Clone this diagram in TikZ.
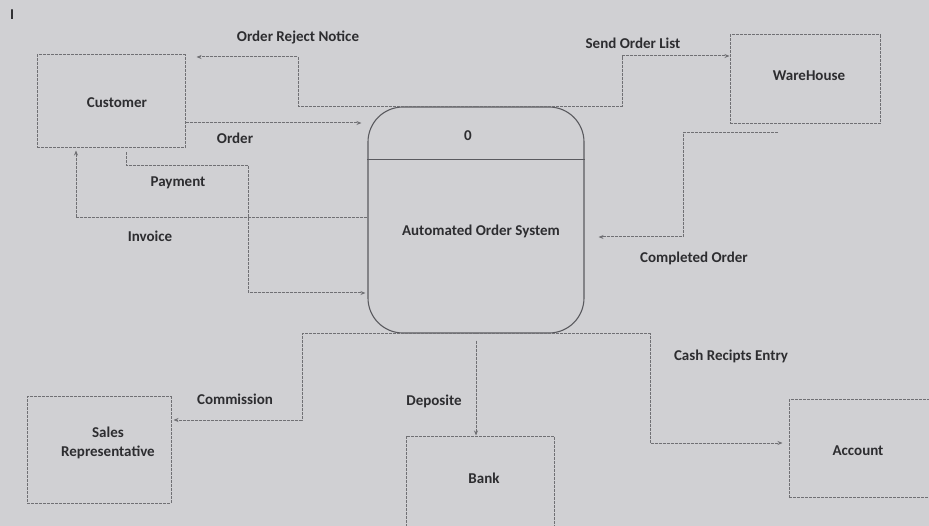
\documentclass[tikz,border=0pt]{standalone}
\usepackage{fontspec}
\setmainfont{Carlito}
\usetikzlibrary{arrows.meta}
\definecolor{bgc}{RGB}{208,208,211}
\definecolor{lnc}{RGB}{112,112,116}
\definecolor{pc}{RGB}{90,90,95}
\definecolor{txc}{RGB}{45,45,48}
\tikzset{
  ent/.style={draw=lnc, line width=1pt, dash pattern=on 3pt off 1pt, minimum width=#1},
  flow/.style={draw=lnc, line width=1pt, dash pattern=on 3pt off 1pt, -{Stealth[length=5pt,width=4pt]}},
  proc/.style={draw=pc, line width=1.1pt, rounded corners=35pt, minimum width=216pt, minimum height=226pt},
  lbl/.style={text=txc, font=\fontsize{15}{18}\selectfont\bfseries, inner sep=0pt},
}
\begin{document}
\begin{tikzpicture}[x=1pt,y=-1pt]
\clip (0,0) rectangle (929,526);
\fill[bgc] (0,0) rectangle (929,526);
\node[lbl] (mark) at (12,15) {I};
% entities
\node[ent=148pt, minimum height=93pt] (cust) at (111,101.5) {};
\node[lbl] (custtxt) at (117,103) {Customer};
\node[ent=150pt, minimum height=89pt] (wh) at (805,79.5) {};
\node[lbl] (whtxt) at (809,76) {WareHouse};
\node[ent=144pt, minimum height=106pt] (sales) at (99,450) {};
\node[lbl, align=center] (salestxt) at (108,443) {Sales\\[1pt]Representative};
\node[ent=148pt, minimum height=120pt] (bank) at (480,496) {};
\node[lbl] (banktxt) at (484,478) {Bank};
\node[ent=146pt, minimum height=97pt] (acc) at (862,448.5) {};
\node[lbl] (acctxt) at (858,451) {Account};
% process
\node[proc] (proc) at (476,220) {};
\coordinate (divy) at (0,160);
\draw[draw=pc, line width=1pt] (proc.west |- divy) -- (proc.east |- divy);
\node[lbl] (pid) at (468,136) {0};
\node[lbl] (pname) at (481,231) {Automated Order System};
% flows
\coordinate (rj1) at (298,57);
\draw[flow] (proc.north) -| (rj1) -- ([xshift=11pt]cust.east |- rj1);
\coordinate (so1) at (622,56);
\draw[flow] (proc.north) -| (so1) -- (wh.west |- so1);
\coordinate (ord) at (0,123);
\draw[flow] (cust.east |- ord) -- ([xshift=-6pt]proc.west |- ord);
\coordinate (pay1) at (126,166);
\coordinate (pay2) at (248,293);
\draw[flow] ([yshift=-4pt]cust.south -| pay1) -- (pay1) -| (pay2) -- ([xshift=-2pt]proc.west |- pay2);
\coordinate (inv) at (76,218);
\draw[flow] (proc.west |- inv) -- (inv) -- ([yshift=-2pt]cust.south -| inv);
\coordinate (co0) at (778,133);
\coordinate (co1) at (683,237);
\draw[flow] (co0) -| (co1) -- ([xshift=14pt]proc.east |- co1);
\coordinate (cm1) at (302,420);
\draw[flow] (proc.south) -| (cm1) -- ([xshift=2pt]sales.east |- cm1);
\draw[flow] ([yshift=-7pt]proc.south) -- (proc.south |- bank.north);
\coordinate (ca1) at (650,443);
\draw[flow] (proc.south) -| (ca1) -- ([xshift=-6pt]acc.west |- ca1);
% labels
\node[lbl] (lrj) at (298,37) {Order Reject Notice};
\node[lbl] (lso) at (633,43) {Send Order List};
\node[lbl] (lord) at (235,138) {Order};
\node[lbl] (lpay) at (178,183) {Payment};
\node[lbl] (linv) at (150,236) {Invoice};
\node[lbl] (lco) at (694,258) {Completed Order};
\node[lbl] (lcm) at (235,399) {Commission};
\node[lbl] (ldep) at (434,401) {Deposite};
\node[lbl] (lca) at (731,356) {Cash Recipts Entry};
\end{tikzpicture}
\end{document}
